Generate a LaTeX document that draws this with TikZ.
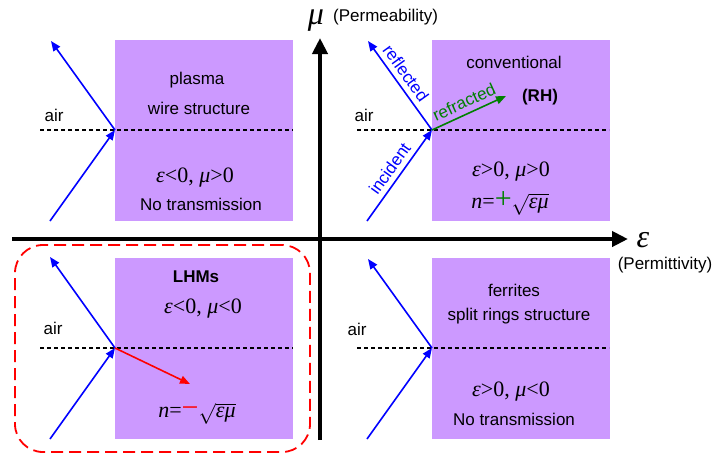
\documentclass[tikz,border=0pt]{standalone}
\usepackage{fontspec}
\setmainfont{Liberation Sans}
\newfontfamily\tnr{Liberation Serif}
\newcommand{\gk}[1]{{\tnr\itshape #1}}
\usetikzlibrary{arrows.meta}
\definecolor{lilac}{RGB}{204,153,255}
\definecolor{raygreen}{RGB}{0,128,0}
\begin{document}
\begin{tikzpicture}[x=1pt,y=-1pt,
  slab/.style={fill=lilac, draw=none, minimum width=178pt, minimum height=181pt, inner sep=0pt},
  txt/.style={font=\fontsize{17}{19}\selectfont, inner sep=0pt},
  raylbl/.style={font=\fontsize{17}{19}\selectfont, inner sep=5pt, sloped, above},
  mth/.style={font=\fontsize{22}{24}\selectfont\tnr, inner sep=0pt},
  ray/.style={blue, line width=1.6pt, -{Triangle[length=10pt,width=8pt]}},
  iface/.style={dash pattern=on 4pt off 3pt, line width=1.2pt},
  axis/.style={line width=4pt, -{Triangle[length=16pt,width=15pt]}}]
\useasboundingbox (0,0) rectangle (715,459);

\node[slab] (tlbox) at (204,130.5) {};
\node[slab] (trbox) at (520.5,130.5) {};
\node[slab] (blbox) at (204,348) {};
\node[slab] (brbox) at (520.5,348) {};

\node[draw=red, line width=1.8pt, dash pattern=on 12pt off 6pt, rounded corners=28pt,
  minimum width=295pt, minimum height=207pt] (lhmframe) at (162.5,348.5) {};

% axes
\coordinate (mu0) at (320,440);
\coordinate (mutip) at (320,38);
\coordinate (eps0) at (12,239);
\coordinate (epstip) at (628,239);
\draw[axis] (mu0) -- (mutip);
\draw[axis] (eps0) -- (epstip);
\node[font=\fontsize{32}{32}\selectfont, inner sep=0pt] (mulbl) at (316,21) {\gk{μ}};
\node[txt, anchor=west] (mutxt) at (333,17) {(Permeability)};
\node[font=\fontsize{32}{32}\selectfont, inner sep=0pt] (epslbl) at (643,240) {\gk{ε}};
\node[txt] (epstxt) at (665,265) {(Permittivity)};

% eps<0, mu>0
\coordinate (tlp) at (115,130);
\coordinate (tlr) at (51,41);
\coordinate (tli) at (50,221);
\coordinate (tla) at (40,130);
\coordinate (tlb) at (293,130);
\draw[iface] (tla) -- (tlb);
\draw[ray] (tli) -- (tlp);
\draw[ray] (tlp) -- (tlr);
\node[txt] (tlair) at (54,115) {air};
\node[txt] (tlname) at (197,80) {plasma};
\node[txt] (tlkind) at (199,108) {wire structure};
\node[mth] (tlsign) at (195,178) {\gk{ε}<0, \gk{μ}>0};
\node[txt] (tlnote) at (201,204) {No transmission};

% eps>0, mu>0
\coordinate (trp) at (432,130);
\coordinate (trr) at (368,41);
\coordinate (tri) at (367,221);
\coordinate (trt) at (506,96);
\coordinate (tra) at (357,130);
\coordinate (trb) at (609,130);
\draw[iface] (tra) -- (trb);
\draw[ray] (tri) -- node[raylbl] {incident} (trp);
\draw[ray] (trp) -- node[raylbl, pos=0.56] {reflected} (trr);
\draw[ray, raygreen] (trp) -- node[raylbl, pos=0.5] {refracted} (trt);
\node[txt] (trair) at (364,115) {air};
\node[txt] (trname) at (514,62) {conventional};
\node[txt, font=\fontsize{17}{19}\selectfont\bfseries] (trkind) at (540,97) {(RH)};
\node[mth] (trsign) at (511,172) {\gk{ε}>0, \gk{μ}>0};
\node[mth] (trindex) at (510,203) {\gk{n}=\textcolor{raygreen}{\fontsize{30}{30}\selectfont +}$\sqrt{\mbox{\gk{εμ}}}$};

% eps<0, mu<0
\coordinate (blp) at (115,348);
\coordinate (blr) at (50,257);
\coordinate (bli) at (50,439);
\coordinate (blt) at (190,384);
\coordinate (bla) at (40,348);
\coordinate (blb) at (293,348);
\draw[iface] (bla) -- (blb);
\draw[ray] (bli) -- (blp);
\draw[ray] (blp) -- (blr);
\draw[ray, red] (blp) -- (blt);
\node[txt] (blair) at (53,328) {air};
\node[txt, font=\fontsize{17}{19}\selectfont\bfseries] (blname) at (196,277) {LHMs};
\node[mth] (blsign) at (203,309) {\gk{ε}<0, \gk{μ}<0};
\node[mth] (blindex) at (197,414) {\gk{n}=\textcolor{red}{\fontsize{30}{30}\selectfont −}$\sqrt{\mbox{\gk{εμ}}}$};

% eps>0, mu<0
\coordinate (brp) at (432,348);
\coordinate (brr) at (368,259);
\coordinate (bri) at (367,439);
\coordinate (bra) at (357,348);
\coordinate (brb) at (609,348);
\draw[iface] (bra) -- (brb);
\draw[ray] (bri) -- (brp);
\draw[ray] (brp) -- (brr);
\node[txt] (brair) at (357,329) {air};
\node[txt] (brname) at (514,290) {ferrites};
\node[txt] (brkind) at (519,316) {split rings structure};
\node[mth] (brsign) at (511,392) {\gk{ε}>0, \gk{μ}<0};
\node[txt] (brnote) at (514,419) {No transmission};
\end{tikzpicture}
\end{document}
